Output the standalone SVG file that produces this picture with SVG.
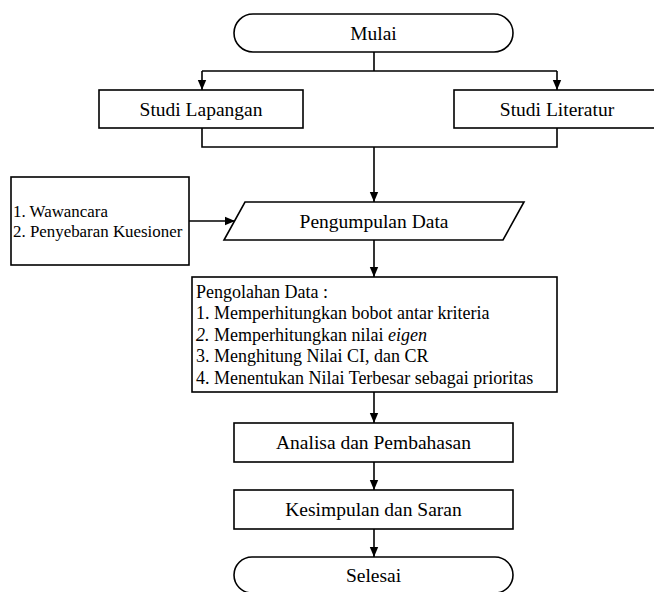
<svg xmlns="http://www.w3.org/2000/svg" width="654" height="592" viewBox="0 0 654 592">
<style>
.shape{fill:#fff;stroke:#000;stroke-width:1.6}
text{font-family:'Liberation Serif','Tinos','DejaVu Serif',serif;fill:#000}
.lbl{font-size:19.5px;text-anchor:middle}
.txt{font-size:18px}
.sm{font-size:16.9px}
.conn{fill:none;stroke:#000;stroke-width:1.6}
</style>
<defs>
<marker id="arr" markerUnits="userSpaceOnUse" markerWidth="10" markerHeight="10" refX="10" refY="5" orient="auto">
<path d="M0,0.8 L10,5 L0,9.2 z" fill="#000"/>
</marker>
</defs>
<rect width="654" height="592" fill="#fff"/>
<g id="connectors">
<path class="conn" d="M374,52 V71 M202,71 H557"/>
<path class="conn" d="M202,71 V90" marker-end="url(#arr)"/>
<path class="conn" d="M557,71 V90" marker-end="url(#arr)"/>
<path class="conn" d="M202,128 V147 H557 V128"/>
<path class="conn" d="M374,147 V202" marker-end="url(#arr)"/>
<path class="conn" d="M189,221 H235" marker-end="url(#arr)"/>
<path class="conn" d="M374,240 V277" marker-end="url(#arr)"/>
<path class="conn" d="M374,392 V423" marker-end="url(#arr)"/>
<path class="conn" d="M374,462 V490" marker-end="url(#arr)"/>
<path class="conn" d="M374,529 V557" marker-end="url(#arr)"/>
</g>
<g id="mulai">
<rect class="shape" x="234" y="14" width="279" height="38" rx="19" ry="19"/>
<text class="lbl" x="373.5" y="39.5">Mulai</text>
</g>
<g id="studi-lapangan">
<rect class="shape" x="99" y="90" width="204" height="38"/>
<text class="lbl" x="201" y="115.5">Studi Lapangan</text>
</g>
<g id="studi-literatur">
<rect class="shape" x="454" y="90" width="206" height="38"/>
<text class="lbl" x="557" y="115.5">Studi Literatur</text>
</g>
<g id="metode">
<rect class="shape" x="11" y="177" width="178" height="88"/>
<text class="sm" x="13" y="217">1. Wawancara</text>
<text class="sm" x="13" y="237">2. Penyebaran Kuesioner</text>
</g>
<g id="pengumpulan">
<polygon class="shape" points="245,202 524,202 503,240 224,240"/>
<text class="lbl" x="374" y="227.5">Pengumpulan Data</text>
</g>
<g id="pengolahan">
<rect class="shape" x="192" y="277" width="365" height="115"/>
<text class="txt" x="196" y="297.5">Pengolahan Data :</text>
<text class="txt" x="196" y="319">1. Memperhitungkan bobot antar kriteria</text>
<text class="txt" x="196" y="340.5"><tspan font-style="italic">2.</tspan> Memperhitungkan nilai <tspan font-style="italic">eigen</tspan></text>
<text class="txt" x="196" y="362">3. Menghitung Nilai CI, dan CR</text>
<text class="txt" x="196" y="383.5">4. Menentukan Nilai Terbesar sebagai prioritas</text>
</g>
<g id="analisa">
<rect class="shape" x="234" y="423" width="279" height="39"/>
<text class="lbl" x="373.5" y="449">Analisa dan Pembahasan</text>
</g>
<g id="kesimpulan">
<rect class="shape" x="234" y="490" width="279" height="39"/>
<text class="lbl" x="373.5" y="516">Kesimpulan dan Saran</text>
</g>
<g id="selesai">
<rect class="shape" x="234" y="557" width="279" height="36" rx="18" ry="18"/>
<text class="lbl" x="373.5" y="582">Selesai</text>
</g>
</svg>
